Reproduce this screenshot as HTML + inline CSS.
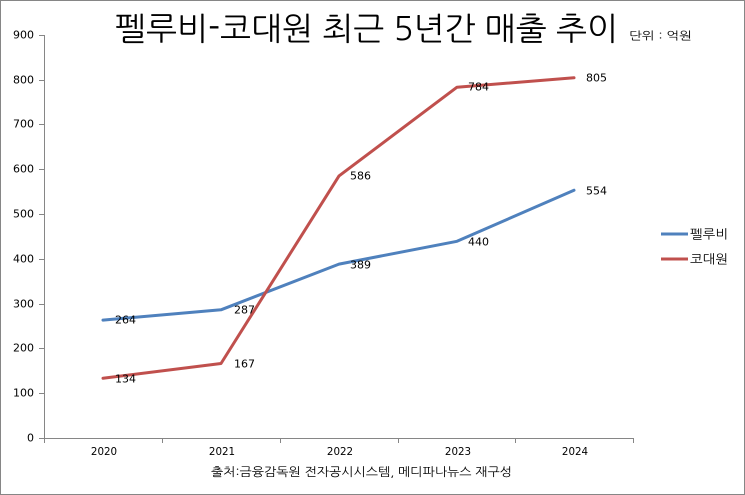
<!DOCTYPE html>
<html><head><meta charset="utf-8"><style>
html,body{margin:0;padding:0;background:#fff;}
svg{display:block;}
</style></head><body>
<svg width="745" height="495" viewBox="0 0 745 495" xmlns="http://www.w3.org/2000/svg">
<rect x="0.5" y="0.5" width="744" height="494" fill="#fff" stroke="#868686" stroke-width="1"/>
<text x="115" y="29" dominant-baseline="central" font-family="'NanumGothic','Noto Sans CJK KR',sans-serif" font-size="32" fill="#000" textLength="503" lengthAdjust="spacingAndGlyphs">펠루비-코대원 최근 5년간 매출 추이</text>
<text x="629" y="36" dominant-baseline="central" font-family="'NanumGothic','Noto Sans CJK KR',sans-serif" font-size="11" fill="#000" textLength="63" lengthAdjust="spacingAndGlyphs">단위 : 억원</text>
<!-- axes -->
<g stroke="#868686" stroke-width="1" fill="none">
<line x1="44.5" y1="35" x2="44.5" y2="438.5"/>
<line x1="44" y1="438.5" x2="634" y2="438.5"/>
<line x1="39" y1="438.5" x2="44" y2="438.5"/>
<line x1="39" y1="393.5" x2="44" y2="393.5"/>
<line x1="39" y1="348.5" x2="44" y2="348.5"/>
<line x1="39" y1="304.5" x2="44" y2="304.5"/>
<line x1="39" y1="259.5" x2="44" y2="259.5"/>
<line x1="39" y1="214.5" x2="44" y2="214.5"/>
<line x1="39" y1="169.5" x2="44" y2="169.5"/>
<line x1="39" y1="124.5" x2="44" y2="124.5"/>
<line x1="39" y1="80.5" x2="44" y2="80.5"/>
<line x1="39" y1="35.5" x2="44" y2="35.5"/>
<line x1="44.5" y1="438" x2="44.5" y2="443"/>
<line x1="162.5" y1="438" x2="162.5" y2="443"/>
<line x1="280.5" y1="438" x2="280.5" y2="443"/>
<line x1="398.5" y1="438" x2="398.5" y2="443"/>
<line x1="515.5" y1="438" x2="515.5" y2="443"/>
<line x1="633.5" y1="438" x2="633.5" y2="443"/>
</g>
<g font-family="'DejaVu Sans',sans-serif" font-size="11" fill="#000" text-anchor="end" dominant-baseline="central">
<text x="34" y="438">0</text>
<text x="34" y="393">100</text>
<text x="34" y="348">200</text>
<text x="34" y="304">300</text>
<text x="34" y="259">400</text>
<text x="34" y="214">500</text>
<text x="34" y="169">600</text>
<text x="34" y="124">700</text>
<text x="34" y="80">800</text>
<text x="34" y="35">900</text>
</g>
<g font-family="'DejaVu Sans',sans-serif" font-size="10.3" fill="#000" text-anchor="middle" dominant-baseline="central">
<text x="104" y="452">2020</text>
<text x="222" y="452">2021</text>
<text x="340" y="452">2022</text>
<text x="458" y="452">2023</text>
<text x="575" y="452">2024</text>
</g>
<text x="211" y="472" dominant-baseline="central" font-family="'NanumGothic','Noto Sans CJK KR',sans-serif" font-size="12" fill="#000" textLength="301" lengthAdjust="spacingAndGlyphs">출처:금융감독원 전자공시시스템, 메디파나뉴스 재구성</text>
<!-- series -->
<polyline points="103,320.1 221,309.8 339,264.1 457,241.3 574,190.2" fill="none" stroke="#4F81BD" stroke-width="3" stroke-linejoin="round" stroke-linecap="round"/>
<polyline points="103,378.3 221,363.5 339,175.9 457,87.2 574,77.8" fill="none" stroke="#C0504D" stroke-width="3" stroke-linejoin="round" stroke-linecap="round"/>
<g font-family="'DejaVu Sans',sans-serif" font-size="11" fill="#000" dominant-baseline="central">
<text x="115" y="320">264</text>
<text x="234" y="310">287</text>
<text x="350" y="265">389</text>
<text x="468" y="242">440</text>
<text x="586" y="191">554</text>
<text x="115" y="379">134</text>
<text x="234" y="364">167</text>
<text x="350" y="176">586</text>
<text x="468" y="87">784</text>
<text x="586" y="78">805</text>
</g>
<!-- legend -->
<line x1="661" y1="234" x2="688" y2="234" stroke="#4F81BD" stroke-width="3"/>
<line x1="661" y1="259" x2="688" y2="259" stroke="#C0504D" stroke-width="3"/>
<g font-family="'NanumGothic','Noto Sans CJK KR',sans-serif" font-size="12.5" fill="#000" dominant-baseline="central">
<text x="690" y="234" textLength="38" lengthAdjust="spacingAndGlyphs">펠루비</text>
<text x="690" y="259" textLength="38" lengthAdjust="spacingAndGlyphs">코대원</text>
</g>
</svg>
</body></html>
